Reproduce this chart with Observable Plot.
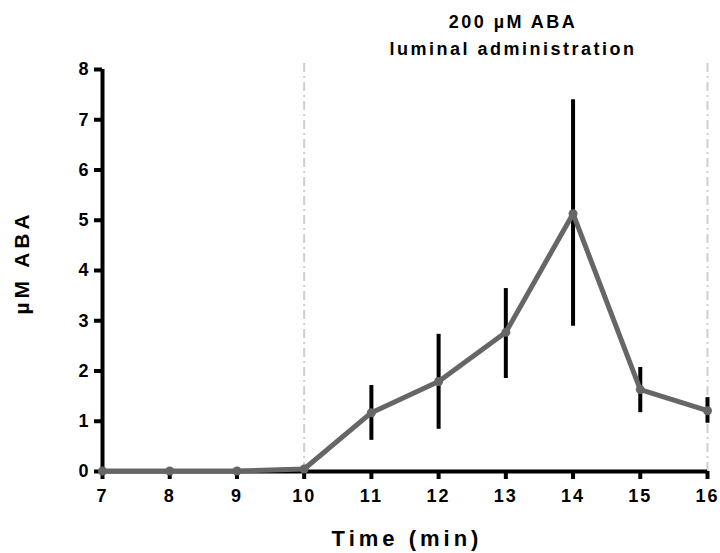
<!DOCTYPE html>
<html>
<head>
<meta charset="utf-8">
<script src="https://cdn.jsdelivr.net/npm/d3@7"></script>
<script src="https://cdn.jsdelivr.net/npm/@observablehq/plot@0.6"></script>
<style>
  html, body { margin: 0; padding: 0; background: #fff; }
  #chart svg text { font-family: "Liberation Sans", Arial, sans-serif; font-weight: bold; }
  .xt text { letter-spacing: 2px; }
  .ttl text { letter-spacing: 2.5px; }
  .axlab text { letter-spacing: 4px; }
</style>
</head>
<body>
<div id="chart"></div>
<script>
const times = [7, 8, 9, 10, 11, 12, 13, 14, 15, 16];
const means = [0.01, 0.01, 0.01, 0.05, 1.17, 1.79, 2.77, 5.13, 1.63, 1.21];
const errLow = [0.01, 0.01, 0.01, 0.05, 0.62, 0.84, 1.85, 2.89, 1.17, 0.96];
const errHigh = [0.01, 0.01, 0.01, 0.05, 1.71, 2.73, 3.64, 7.40, 2.07, 1.47];
const markerTimes = [10, 16];
const yTicks = [0, 1, 2, 3, 4, 5, 6, 7, 8];
const xTicks = [7, 8, 9, 10, 11, 12, 13, 14, 15, 16];
const titleLines = ["200 µM ABA", "luminal administration"];
const xLabel = "Time (min)";
const yLabel = "µM ABA";

const data = times.map((t, i) => ({t, mean: means[i], lo: errLow[i], hi: errHigh[i]}));
const bars = data.filter(d => d.hi - d.lo > 0.05);

const plot = Plot.plot({
  width: 720,
  height: 553,
  marginLeft: 102,
  marginRight: 13,
  marginTop: 69,
  marginBottom: 82,
  x: {domain: [7, 16]},
  y: {domain: [0, 8]},
  style: {fontWeight: "bold", color: "#000"},
  marks: [
    Plot.ruleX(markerTimes, {y1: 0, y2: 8.2, stroke: "#cfcfcf", strokeWidth: 2, strokeDasharray: "9,4,2,4"}),
    Plot.ruleY([0], {x1: 7, x2: 16, stroke: "#000", strokeWidth: 4}),
    Plot.ruleX([7], {y1: 0, y2: 8, stroke: "#000", strokeWidth: 4}),
    Plot.axisX({ticks: xTicks, tickSize: 8, strokeWidth: 4, tickFormat: () => "", label: null}),
    Plot.axisY({ticks: yTicks, tickSize: 8, strokeWidth: 4, tickFormat: () => "", label: null}),
    Plot.text(xTicks, {className: "xt", x: d => d, text: d => String(d), frameAnchor: "bottom", dy: 30, dx: 0, fontSize: 18}),
    Plot.text(yTicks, {y: d => d, text: d => String(d), frameAnchor: "left", textAnchor: "end", dx: -14, dy: 0, fontSize: 18}),
    Plot.ruleX(bars, {x: "t", y1: "lo", y2: "hi", stroke: "#000", strokeWidth: 4}),
    Plot.line(data, {x: "t", y: "mean", stroke: "#666666", strokeWidth: 5, strokeLinejoin: "round"}),
    Plot.dot(data, {x: "t", y: "mean", r: 4.5, fill: "#666666", stroke: "none"}),
    Plot.text([titleLines[0]], {className: "ttl", frameAnchor: "top", dx: 108, dy: -54, fontSize: 18}),
    Plot.text([titleLines[1]], {className: "ttl", frameAnchor: "top", dx: 108, dy: -27, fontSize: 18}),
    Plot.text([xLabel], {className: "axlab", frameAnchor: "bottom", dx: 2, dy: 74, fontSize: 22}),
    Plot.text([yLabel], {className: "axlab", frameAnchor: "left", dx: -80, dy: 44, rotate: -90, fontSize: 21})
  ]
});
document.getElementById("chart").appendChild(plot);
</script>
</body>
</html>
